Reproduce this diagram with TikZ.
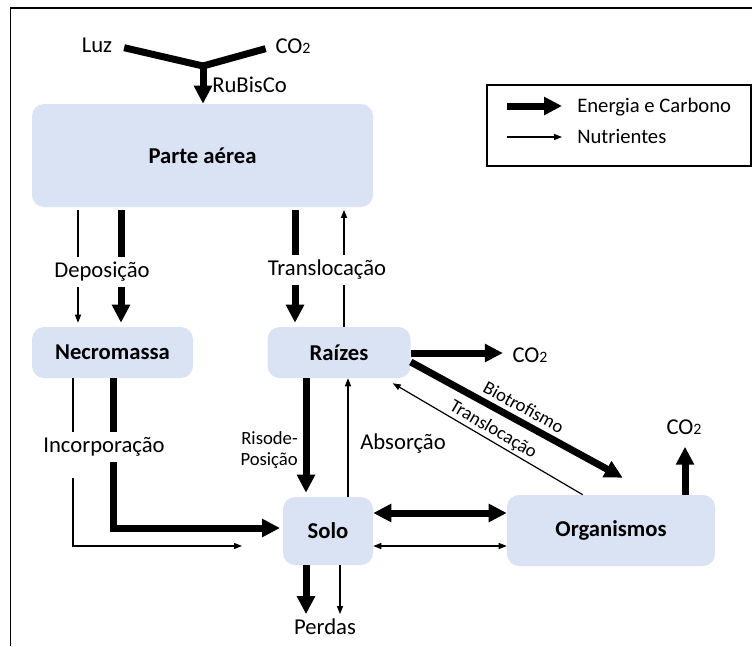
\documentclass[tikz,border=0pt]{standalone}
\usepackage{fontspec}
\setmainfont{Carlito}
\usepackage{tikz}
\usetikzlibrary{arrows.meta, positioning, calc}
\definecolor{cpFill}{HTML}{DAE3F3}
\newcommand{\cotwo}{CO\scalebox{0.7}{2}}
\tikzset{
  cpbox/.style 2 args={fill=cpFill, rounded corners=9pt, inner sep=0pt,
                 font=\fontsize{17}{20}\selectfont\bfseries,
                 minimum width=#1*0.75pt, minimum height=#2*0.75pt},
  cptxt/.style={font=\fontsize{17}{20}\selectfont, inner sep=0pt},
  cpsmall/.style={font=\fontsize{14}{15.75}\selectfont, inner sep=0pt},
  cpleg/.style={font=\fontsize{15.5}{18}\selectfont, inner sep=0pt},
  cpgap/.style={cptxt, inner ysep=4pt},
  cpbar/.style={line width=5.25pt},
  cpline/.style={line width=0.9pt},
  cpthick/.style={cpbar, -{Triangle[length=13.5pt,width=13pt]}},
  cpthin/.style={cpline, -{Triangle[length=6pt,width=4.5pt]}},
  cpthinback/.style={cpline, {Triangle[length=6pt,width=4.5pt]}-},
  cpthickboth/.style={cpbar, {Triangle[length=13.5pt,width=13pt]}-{Triangle[length=13.5pt,width=13pt]}},
  cpthinboth/.style={cpline, {Triangle[length=6pt,width=4.5pt]}-{Triangle[length=6pt,width=4.5pt]}},
}

\begin{document}
\begin{tikzpicture}[x=0.75pt, y=-0.75pt]
\useasboundingbox (0,0) rectangle (752,646);
\draw[line width=1.2pt] (10.5,646) -- (10.5,8) -- (752,8);

\node[cpbox={341}{103}] (pa) at (202.5,155.5) {Parte aérea};
\node[cpbox={161}{51}] (nm) at (112.5,352.5) {Necromassa};
\node[cpbox={143}{51}] (rz) at (339,352.5) {Raízes};
\node[cpbox={90}{68}] (so) at (328,531) {Solo};
\node[cpbox={208}{71}] (og) at (611,530.5) {Organismos};

\node[cptxt] (luz) at (97,45) {Luz};
\node[cptxt] (co2a) at (293,46) {\cotwo};
\coordinate (rub) at (203,66);
\draw[cpbar, shorten <=9pt] (luz.east) -- (rub);
\draw[cpbar, shorten <=7.5pt] (co2a.west) -- (rub);
\draw[cpthick] (rub) -- (rub |- pa.north);
\node[cptxt, anchor=west] (rbc) at (212,85) {RuBisCo};

\node[draw, cpline, inner sep=0pt, minimum width=198pt, minimum height=60.75pt] (leg) at (619,125.5) {};
\coordinate (lega) at (507,106);
\coordinate (legb) at (562,106);
\coordinate (legc) at (507,137);
\coordinate (legd) at (562,137);
\draw[cpthick] (lega) -- (legb);
\draw[cpthin] (legc) -- (legd);
\node[cpleg, anchor=west] (legE) at (577,107.5) {Energia e Carbono};
\node[cpleg, anchor=west] (legN) at (577,136.5) {Nutrientes};

\node[cpgap] (dep) at (102,272) {Deposição};
\draw[cpline, shorten <=2pt] (pa.south -| 78,0) -- (dep.north -| 78,0);
\draw[cpthin, shorten >=3pt] (dep.south -| 78,0) -- (nm.north -| 78,0);
\draw[cpbar, shorten <=2pt] (pa.south -| 121,0) -- (dep.north -| 121,0);
\draw[cpthick, shorten >=3pt] (dep.south -| 121,0) -- (nm.north -| 121,0);

\node[cpgap] (trl) at (327,270) {Translocação};
\draw[cpbar, shorten <=2pt] (pa.south -| 295,0) -- (trl.north -| 295,0);
\draw[cpthick, shorten >=3pt] (trl.south -| 295,0) -- (rz.north -| 295,0);
\draw[cpline] (rz.north -| 344,0) -- (trl.south -| 344,0);
\draw[cpthin, shorten >=2pt] (trl.north -| 344,0) -- (pa.south -| 344,0);

\node[cpgap] (inc) at (104,447) {Incorporação};
\coordinate (incend) at (242,546);
\draw[cpline] (nm.south -| 73,0) -- (inc.north -| 73,0);
\draw[cpbar] (nm.south -| 113,0) -- (inc.north -| 113,0);
\draw[cpthin, shorten <=12pt] (inc.south -| 73,0) |- (incend);
\draw[cpthick, shorten >=2pt] (inc.south -| 113,0) |- (so.west |- 0,528);

\draw[cpthick, shorten >=3pt] (rz.south -| 306,0) -- (so.north -| 306,0);
\node[cpsmall, align=right, anchor=east] (riz) at (298,450) {Risode-\\Posição};
\draw[cpthin] (so.north -| 348,0) -- (rz.south -| 348,0);
\node[cptxt, anchor=west] (abs) at (360,444) {Absorção};

\node[cptxt] (co2r) at (530,355) {\cotwo};
\draw[cpthick, shorten >=7pt] (rz.east |- 0,353) -- (co2r.west |- 0,353);

\draw[cpthick] ($(rz.east)+(0,9.5)$) -- node[cpsmall, sloped, above, inner sep=3.5pt] (bio) {Biotrofismo} ($(og.north west)+(116,-17)$);
\draw[cpthinback] ($(rz.south east)+(-18,5)$) -- node[cpsmall, sloped, above, inner sep=1.5pt] (trl2) {Translocação} ($(og.north west)+(76,0)$);

\node[cptxt] (co2o) at (684,427) {\cotwo};
\draw[cpthick, shorten >=9pt] (og.north -| 685,0) -- (co2o.south -| 685,0);

\draw[cpthickboth] (so.east |- 0,513) -- (og.west |- 0,513);
\draw[cpthinboth] (so.east |- 0,546) -- (og.west |- 0,546);

\node[cptxt] (perd) at (325,627) {Perdas};
\draw[cpthick, shorten >=3.5pt] (so.south -| 306,0) -- (perd.north -| 306,0);
\draw[cpthin, shorten >=3.5pt] (so.south -| 340,0) -- (perd.north -| 340,0);
\end{tikzpicture}
\end{document}
